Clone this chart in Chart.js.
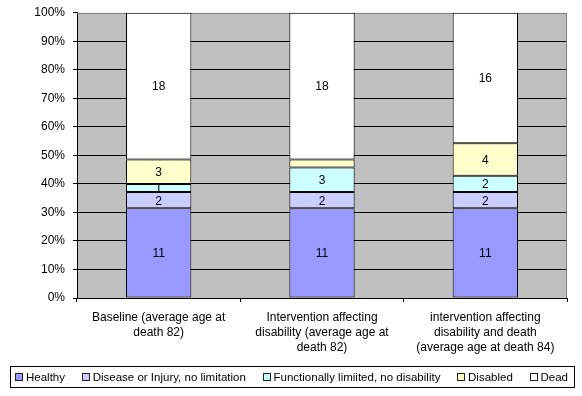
<!DOCTYPE html>
<html><head><meta charset="utf-8">
<script src="https://cdn.jsdelivr.net/npm/chart.js@4/dist/chart.umd.min.js"></script>
<style>html,body{margin:0;padding:0;background:#fff}#wrap{width:582px;height:396px}</style>
</head><body><div id="wrap"><canvas id="c" width="582" height="396"></canvas></div>
<script>
const categories = [
  ["Baseline (average age at", "death 82)"],
  ["Intervention affecting", "disability (average age at", "death 82)"],
  ["intervention affecting", "disability and death", "(average age at death 84)"]
];
const seriesNames = ["Healthy", "Disease or Injury, no limitation", "Functionally limiited, no disability", "Disabled", "Dead"];
const healthy = [11, 11, 11];
const disease = [2, 2, 2];
const functional = [1, 3, 2];
const disabled = [3, 1, 4];
const dead = [18, 18, 16];
const seriesColors = ["#9999FF", "#CCCCFF", "#CCFFFF", "#FFFFCC", "#FFFFFF"];
const hiddenLabels = [[3, 1]]; // [series, category] whose value label is not shown
const yTickValues = [0, 10, 20, 30, 40, 50, 60, 70, 80, 90, 100];

const FONT = "'Liberation Sans', Arial, sans-serif";
const series = [healthy, disease, functional, disabled, dead];
const totals = categories.map((_, i) => series.reduce((s, arr) => s + arr[i], 0));

const datasets = series.map((arr, k) => ({
  label: seriesNames[k],
  data: arr.map((v, i) => v / totals[i] * 100),
  raw: arr,
  backgroundColor: seriesColors[k],
  borderColor: "#000",
  borderWidth: 1,
  borderSkipped: false,
  categoryPercentage: 1,
  barPercentage: 0.4
}));

const plotBg = {
  id: "plotBg",
  beforeDraw(chart) {
    const a = chart.chartArea, c = chart.ctx;
    c.save();
    c.fillStyle = "#C0C0C0";
    c.fillRect(a.left, a.top, a.right - a.left, a.bottom - a.top);
    c.restore();
  },
  beforeDatasetsDraw(chart) {
    const a = chart.chartArea, c = chart.ctx;
    c.save();
    c.strokeStyle = "#808080";
    c.lineWidth = 1;
    c.beginPath();
    c.moveTo(a.left, Math.round(a.top) + 0.5);
    c.lineTo(Math.round(a.right) - 0.5, Math.round(a.top) + 0.5);
    c.lineTo(Math.round(a.right) - 0.5, a.bottom);
    c.stroke();
    c.restore();
  }
};

const valueLabels = {
  id: "valueLabels",
  afterDatasetsDraw(chart) {
    const c = chart.ctx;
    c.save();
    c.font = "12px " + FONT;
    c.fillStyle = "#000";
    c.textAlign = "center";
    c.textBaseline = "middle";
    chart.data.datasets.forEach((ds, k) => {
      const meta = chart.getDatasetMeta(k);
      meta.data.forEach((el, i) => {
        if (hiddenLabels.some(h => h[0] === k && h[1] === i)) return;
        const y = (el.y + el.base) / 2;
        c.fillText(String(ds.raw[i]), el.x, y + 1);
      });
    });
    c.restore();
  }
};

const boxLegend = {
  id: "boxLegend",
  afterDraw(chart) {
    const c = chart.ctx;
    const boxL = 10.5, boxR = 574.5, boxT = 366.5, boxB = 387.5;
    const startX = 15, endX = 568, cy = 377;
    const mk = 7, gapT = 4;
    c.save();
    c.strokeStyle = "#000";
    c.lineWidth = 1;
    c.fillStyle = "#fff";
    c.fillRect(boxL, boxT, boxR - boxL, boxB - boxT);
    c.strokeRect(boxL, boxT, boxR - boxL, boxB - boxT);
    c.font = "11.5px " + FONT;
    const items = chart.data.datasets.map(ds => ({ text: ds.label, color: ds.backgroundColor, w: mk + gapT + c.measureText(ds.label).width }));
    const sum = items.reduce((s, it) => s + it.w, 0);
    const gap = (endX - startX - sum) / (items.length - 1);
    let x = startX;
    c.textBaseline = "middle";
    c.textAlign = "left";
    items.forEach(it => {
      c.fillStyle = it.color;
      c.fillRect(Math.round(x) + 0.5, cy - 3.5, mk, mk);
      c.strokeStyle = "#222";
      c.strokeRect(Math.round(x) + 0.5, cy - 3.5, mk, mk);
      c.fillStyle = "#000";
      c.fillText(it.text, x + mk + gapT, cy + 0.5);
      x += it.w + gap;
    });
    c.restore();
  }
};

new Chart(document.getElementById("c"), {
  type: "bar",
  data: { labels: categories, datasets },
  plugins: [plotBg, valueLabels, boxLegend],
  options: {
    responsive: false,
    devicePixelRatio: 1,
    animation: false,
    layout: { padding: { left: 0, right: 15, top: 12, bottom: 0 } },
    plugins: { legend: { display: false }, tooltip: { enabled: false } },
    scales: {
      x: {
        stacked: true,
        offset: true,
        grid: { offset: true, drawOnChartArea: false, drawTicks: true, tickLength: 4, color: "#000", tickColor: "#000" },
        border: { color: "#000", width: 1 },
        ticks: { color: "#000", font: { family: FONT, size: 12, lineHeight: 1.25 }, padding: 8, maxRotation: 0, autoSkip: false },
        afterFit: s => { s.height = 98; }
      },
      y: {
        stacked: true,
        min: 0,
        max: 100,
        afterBuildTicks: s => { s.ticks = yTickValues.map(v => ({ value: v })); },
        ticks: { color: "#000", font: { family: FONT, size: 12, lineHeight: 0.8 }, padding: 8, callback: v => v + "%" },
        grid: {
          color: ctx => (ctx.tick && ctx.tick.value === 100) ? "rgba(0,0,0,0)" : "#000",
          tickColor: "#000",
          tickLength: 4,
          drawTicks: true
        },
        border: { color: "#000", width: 1 },
        afterFit: s => { s.width = 77; }
      }
    }
  }
});
</script>
</body></html>
